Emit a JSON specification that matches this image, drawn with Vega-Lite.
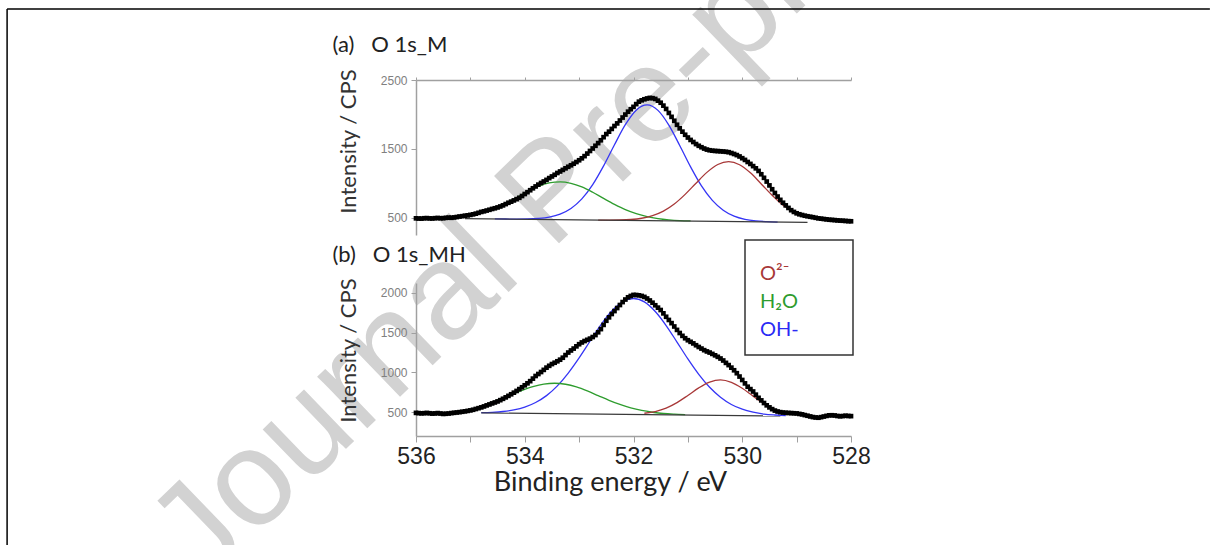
{
"$schema": "https://vega.github.io/schema/vega-lite/v6.json",
"autosize": {"type": "none"},
"padding": {"left": 416, "top": 0, "right": 794, "bottom": 545},
"background": "white",
"config": {"view": {"stroke": null}, "font": "Lato", "axis": {"grid": false, "labelOverlap": false}, "axisY": {"labelOverlap": false}, "legend": {"strokeWidth": 1.5}},
"spacing": 48,
"bounds": "flush",
"resolve": {"scale": {"color": "independent"}, "legend": {"color": "independent"}},
"datasets": {
"wm": [{"label": "Journal Pre-proof"}],
"page": [{"edge": "frame"}],
"base_a": [{"E":535.1,"I":488},{"E":528.8,"I":432}],
"base_b": [{"E":534.8,"I":490},{"E":529.3,"I":452}],
"fit_a": [
{"component":"OH-","E":534.55,"I":483},{"component":"OH-","E":534.35,"I":482},{"component":"OH-","E":534.15,"I":481},{"component":"OH-","E":533.95,"I":483},{"component":"OH-","E":533.75,"I":491},{"component":"OH-","E":533.55,"I":510},{"component":"OH-","E":533.35,"I":553},{"component":"OH-","E":533.15,"I":635},{"component":"OH-","E":532.95,"I":774},{"component":"OH-","E":532.75,"I":981},{"component":"OH-","E":532.55,"I":1253},{"component":"OH-","E":532.35,"I":1560},{"component":"OH-","E":532.15,"I":1852},{"component":"OH-","E":531.95,"I":2062},{"component":"OH-","E":531.75,"I":2138},{"component":"OH-","E":531.55,"I":2059},{"component":"OH-","E":531.35,"I":1845},{"component":"OH-","E":531.15,"I":1549},{"component":"OH-","E":530.95,"I":1239},{"component":"OH-","E":530.75,"I":963},{"component":"OH-","E":530.55,"I":753},{"component":"OH-","E":530.35,"I":610},{"component":"OH-","E":530.15,"I":524},{"component":"OH-","E":529.95,"I":478},{"component":"OH-","E":529.75,"I":455},{"component":"OH-","E":529.55,"I":444},{"component":"OH-","E":529.35,"I":438},
{"component":"H₂O","E":535.55,"I":500},{"component":"H₂O","E":535.35,"I":507},{"component":"H₂O","E":535.15,"I":521},{"component":"H₂O","E":534.95,"I":547},{"component":"H₂O","E":534.75,"I":586},{"component":"H₂O","E":534.55,"I":641},{"component":"H₂O","E":534.35,"I":713},{"component":"H₂O","E":534.15,"I":795},{"component":"H₂O","E":533.95,"I":881},{"component":"H₂O","E":533.75,"I":955},{"component":"H₂O","E":533.55,"I":1005},{"component":"H₂O","E":533.35,"I":1022},{"component":"H₂O","E":533.15,"I":1001},{"component":"H₂O","E":532.95,"I":948},{"component":"H₂O","E":532.75,"I":870},{"component":"H₂O","E":532.55,"I":781},{"component":"H₂O","E":532.35,"I":695},{"component":"H₂O","E":532.15,"I":619},{"component":"H₂O","E":531.95,"I":561},{"component":"H₂O","E":531.75,"I":518},{"component":"H₂O","E":531.55,"I":489},{"component":"H₂O","E":531.35,"I":471},{"component":"H₂O","E":531.15,"I":460},{"component":"H₂O","E":530.95,"I":455},
{"component":"O²⁻","E":532.65,"I":466},{"component":"O²⁻","E":532.45,"I":466},{"component":"O²⁻","E":532.25,"I":468},{"component":"O²⁻","E":532.05,"I":475},{"component":"O²⁻","E":531.85,"I":493},{"component":"O²⁻","E":531.65,"I":531},{"component":"O²⁻","E":531.45,"I":597},{"component":"O²⁻","E":531.25,"I":700},{"component":"O²⁻","E":531.05,"I":840},{"component":"O²⁻","E":530.85,"I":1002},{"component":"O²⁻","E":530.65,"I":1159},{"component":"O²⁻","E":530.45,"I":1273},{"component":"O²⁻","E":530.25,"I":1314},{"component":"O²⁻","E":530.05,"I":1270},{"component":"O²⁻","E":529.85,"I":1152},{"component":"O²⁻","E":529.65,"I":991},{"component":"O²⁻","E":529.45,"I":826},{"component":"O²⁻","E":529.25,"I":682},{"component":"O²⁻","E":529.05,"I":576}
],
"fit_b": [
{"component":"OH-","E":534.8,"I":493},{"component":"OH-","E":534.6,"I":498},{"component":"OH-","E":534.4,"I":508},{"component":"OH-","E":534.2,"I":528},{"component":"OH-","E":534.0,"I":563},{"component":"OH-","E":533.8,"I":621},{"component":"OH-","E":533.6,"I":708},{"component":"OH-","E":533.4,"I":831},{"component":"OH-","E":533.2,"I":992},{"component":"OH-","E":533.0,"I":1183},{"component":"OH-","E":532.8,"I":1392},{"component":"OH-","E":532.6,"I":1598},{"component":"OH-","E":532.4,"I":1772},{"component":"OH-","E":532.2,"I":1889},{"component":"OH-","E":532.0,"I":1930},{"component":"OH-","E":531.8,"I":1887},{"component":"OH-","E":531.6,"I":1766},{"component":"OH-","E":531.4,"I":1590},{"component":"OH-","E":531.2,"I":1382},{"component":"OH-","E":531.0,"I":1170},{"component":"OH-","E":530.8,"I":976},{"component":"OH-","E":530.6,"I":813},{"component":"OH-","E":530.4,"I":688},{"component":"OH-","E":530.2,"I":597},{"component":"OH-","E":530.0,"I":537},{"component":"OH-","E":529.8,"I":500},{"component":"OH-","E":529.6,"I":476},{"component":"OH-","E":529.4,"I":464},{"component":"OH-","E":529.2,"I":457},
{"component":"H₂O","E":534.65,"I":612},{"component":"H₂O","E":534.45,"I":662},{"component":"H₂O","E":534.25,"I":719},{"component":"H₂O","E":534.05,"I":774},{"component":"H₂O","E":533.85,"I":822},{"component":"H₂O","E":533.65,"I":854},{"component":"H₂O","E":533.45,"I":864},{"component":"H₂O","E":533.25,"I":851},{"component":"H₂O","E":533.05,"I":817},{"component":"H₂O","E":532.85,"I":767},{"component":"H₂O","E":532.65,"I":708},{"component":"H₂O","E":532.45,"I":649},{"component":"H₂O","E":532.25,"I":597},{"component":"H₂O","E":532.05,"I":553},{"component":"H₂O","E":531.85,"I":521},{"component":"H₂O","E":531.65,"I":499},{"component":"H₂O","E":531.45,"I":483},{"component":"H₂O","E":531.25,"I":474},{"component":"H₂O","E":531.05,"I":468},
{"component":"O²⁻","E":531.8,"I":486},{"component":"O²⁻","E":531.6,"I":508},{"component":"O²⁻","E":531.4,"I":551},{"component":"O²⁻","E":531.2,"I":620},{"component":"O²⁻","E":531.0,"I":710},{"component":"O²⁻","E":530.8,"I":805},{"component":"O²⁻","E":530.6,"I":878},{"component":"O²⁻","E":530.4,"I":906},{"component":"O²⁻","E":530.2,"I":875},{"component":"O²⁻","E":530.0,"I":800},{"component":"O²⁻","E":529.8,"I":702},{"component":"O²⁻","E":529.6,"I":609}
],
"spec_a": [
{"E":536.00,"I":492},{"E":535.95,"I":489},{"E":535.90,"I":488},{"E":535.85,"I":493},{"E":535.80,"I":495},{"E":535.75,"I":491},{"E":535.70,"I":490},{"E":535.65,"I":494},{"E":535.60,"I":497},{"E":535.55,"I":493},{"E":535.50,"I":494},{"E":535.45,"I":499},{"E":535.40,"I":502},{"E":535.35,"I":500},{"E":535.30,"I":505},{"E":535.25,"I":511},{"E":535.20,"I":518},{"E":535.15,"I":523},{"E":535.10,"I":530},{"E":535.05,"I":535},{"E":535.00,"I":542},{"E":534.95,"I":550},{"E":534.90,"I":560},{"E":534.85,"I":572},{"E":534.80,"I":585},{"E":534.75,"I":594},{"E":534.70,"I":605},{"E":534.65,"I":616},{"E":534.60,"I":628},{"E":534.55,"I":638},{"E":534.50,"I":650},{"E":534.45,"I":664},{"E":534.40,"I":680},{"E":534.35,"I":699},{"E":534.30,"I":718},{"E":534.25,"I":734},{"E":534.20,"I":752},{"E":534.15,"I":770},{"E":534.10,"I":790},{"E":534.05,"I":816},{"E":534.00,"I":845},{"E":533.95,"I":872},{"E":533.90,"I":900},{"E":533.85,"I":928},{"E":533.80,"I":955},{"E":533.75,"I":981},{"E":533.70,"I":1005},{"E":533.65,"I":1027},{"E":533.60,"I":1050},{"E":533.55,"I":1076},{"E":533.50,"I":1100},{"E":533.45,"I":1124},{"E":533.40,"I":1150},{"E":533.35,"I":1172},{"E":533.30,"I":1195},{"E":533.25,"I":1218},{"E":533.20,"I":1240},{"E":533.15,"I":1262},{"E":533.10,"I":1285},{"E":533.05,"I":1309},{"E":533.00,"I":1335},{"E":532.95,"I":1363},{"E":532.90,"I":1395},{"E":532.85,"I":1432},{"E":532.80,"I":1470},{"E":532.75,"I":1506},{"E":532.70,"I":1545},{"E":532.65,"I":1584},{"E":532.60,"I":1625},{"E":532.55,"I":1670},{"E":532.50,"I":1715},{"E":532.45,"I":1750},{"E":532.40,"I":1790},{"E":532.35,"I":1832},{"E":532.30,"I":1870},{"E":532.25,"I":1912},{"E":532.20,"I":1955},{"E":532.15,"I":1998},{"E":532.10,"I":2040},{"E":532.05,"I":2076},{"E":532.00,"I":2110},{"E":531.95,"I":2150},{"E":531.90,"I":2185},{"E":531.85,"I":2205},{"E":531.80,"I":2220},{"E":531.75,"I":2232},{"E":531.70,"I":2240},{"E":531.65,"I":2236},{"E":531.60,"I":2225},{"E":531.55,"I":2200},{"E":531.50,"I":2170},{"E":531.45,"I":2128},{"E":531.40,"I":2080},{"E":531.35,"I":2022},{"E":531.30,"I":1965},{"E":531.25,"I":1908},{"E":531.20,"I":1850},{"E":531.15,"I":1798},{"E":531.10,"I":1750},{"E":531.05,"I":1705},{"E":531.00,"I":1665},{"E":530.95,"I":1630},{"E":530.90,"I":1600},{"E":530.85,"I":1570},{"E":530.80,"I":1545},{"E":530.75,"I":1524},{"E":530.70,"I":1505},{"E":530.65,"I":1490},{"E":530.60,"I":1480},{"E":530.55,"I":1474},{"E":530.50,"I":1470},{"E":530.45,"I":1468},{"E":530.40,"I":1465},{"E":530.35,"I":1462},{"E":530.30,"I":1458},{"E":530.25,"I":1452},{"E":530.20,"I":1440},{"E":530.15,"I":1426},{"E":530.10,"I":1410},{"E":530.05,"I":1390},{"E":530.00,"I":1365},{"E":529.95,"I":1340},{"E":529.90,"I":1310},{"E":529.85,"I":1282},{"E":529.80,"I":1250},{"E":529.75,"I":1218},{"E":529.70,"I":1180},{"E":529.65,"I":1132},{"E":529.60,"I":1080},{"E":529.55,"I":1026},{"E":529.50,"I":970},{"E":529.45,"I":914},{"E":529.40,"I":860},{"E":529.35,"I":808},{"E":529.30,"I":760},{"E":529.25,"I":718},{"E":529.20,"I":680},{"E":529.15,"I":643},{"E":529.10,"I":610},{"E":529.05,"I":585},{"E":529.00,"I":565},{"E":528.95,"I":551},{"E":528.90,"I":540},{"E":528.85,"I":530},{"E":528.80,"I":522},{"E":528.75,"I":515},{"E":528.70,"I":508},{"E":528.65,"I":500},{"E":528.60,"I":492},{"E":528.55,"I":487},{"E":528.50,"I":482},{"E":528.45,"I":477},{"E":528.40,"I":472},{"E":528.35,"I":469},{"E":528.30,"I":466},{"E":528.25,"I":462},{"E":528.20,"I":459},{"E":528.15,"I":457},{"E":528.10,"I":454},{"E":528.05,"I":451},{"E":528.00,"I":449}
],
"spec_b": [
{"E":536.00,"I":491},{"E":535.95,"I":488},{"E":535.90,"I":485},{"E":535.85,"I":487},{"E":535.80,"I":490},{"E":535.75,"I":486},{"E":535.70,"I":482},{"E":535.65,"I":484},{"E":535.60,"I":488},{"E":535.55,"I":483},{"E":535.50,"I":478},{"E":535.45,"I":480},{"E":535.40,"I":483},{"E":535.35,"I":488},{"E":535.30,"I":492},{"E":535.25,"I":496},{"E":535.20,"I":500},{"E":535.15,"I":505},{"E":535.10,"I":510},{"E":535.05,"I":516},{"E":535.00,"I":522},{"E":534.95,"I":530},{"E":534.90,"I":540},{"E":534.85,"I":550},{"E":534.80,"I":560},{"E":534.75,"I":572},{"E":534.70,"I":585},{"E":534.65,"I":597},{"E":534.60,"I":610},{"E":534.55,"I":622},{"E":534.50,"I":635},{"E":534.45,"I":651},{"E":534.40,"I":668},{"E":534.35,"I":686},{"E":534.30,"I":705},{"E":534.25,"I":725},{"E":534.20,"I":745},{"E":534.15,"I":767},{"E":534.10,"I":790},{"E":534.05,"I":813},{"E":534.00,"I":838},{"E":533.95,"I":863},{"E":533.90,"I":890},{"E":533.85,"I":922},{"E":533.80,"I":955},{"E":533.75,"I":980},{"E":533.70,"I":1005},{"E":533.65,"I":1032},{"E":533.60,"I":1060},{"E":533.55,"I":1083},{"E":533.50,"I":1105},{"E":533.45,"I":1122},{"E":533.40,"I":1140},{"E":533.35,"I":1160},{"E":533.30,"I":1185},{"E":533.25,"I":1218},{"E":533.20,"I":1250},{"E":533.15,"I":1276},{"E":533.10,"I":1300},{"E":533.05,"I":1328},{"E":533.00,"I":1355},{"E":532.95,"I":1377},{"E":532.90,"I":1395},{"E":532.85,"I":1410},{"E":532.80,"I":1425},{"E":532.75,"I":1445},{"E":532.70,"I":1470},{"E":532.65,"I":1505},{"E":532.60,"I":1545},{"E":532.55,"I":1598},{"E":532.50,"I":1650},{"E":532.45,"I":1693},{"E":532.40,"I":1735},{"E":532.35,"I":1772},{"E":532.30,"I":1810},{"E":532.25,"I":1848},{"E":532.20,"I":1885},{"E":532.15,"I":1917},{"E":532.10,"I":1945},{"E":532.05,"I":1962},{"E":532.00,"I":1975},{"E":531.95,"I":1974},{"E":531.90,"I":1970},{"E":531.85,"I":1962},{"E":531.80,"I":1950},{"E":531.75,"I":1930},{"E":531.70,"I":1905},{"E":531.65,"I":1877},{"E":531.60,"I":1845},{"E":531.55,"I":1815},{"E":531.50,"I":1785},{"E":531.45,"I":1743},{"E":531.40,"I":1700},{"E":531.35,"I":1660},{"E":531.30,"I":1620},{"E":531.25,"I":1578},{"E":531.20,"I":1535},{"E":531.15,"I":1496},{"E":531.10,"I":1460},{"E":531.05,"I":1430},{"E":531.00,"I":1405},{"E":530.95,"I":1385},{"E":530.90,"I":1365},{"E":530.85,"I":1342},{"E":530.80,"I":1320},{"E":530.75,"I":1300},{"E":530.70,"I":1280},{"E":530.65,"I":1264},{"E":530.60,"I":1250},{"E":530.55,"I":1233},{"E":530.50,"I":1215},{"E":530.45,"I":1196},{"E":530.40,"I":1175},{"E":530.35,"I":1150},{"E":530.30,"I":1120},{"E":530.25,"I":1092},{"E":530.20,"I":1060},{"E":530.15,"I":1027},{"E":530.10,"I":990},{"E":530.05,"I":948},{"E":530.00,"I":905},{"E":529.95,"I":862},{"E":529.90,"I":820},{"E":529.85,"I":790},{"E":529.80,"I":760},{"E":529.75,"I":720},{"E":529.70,"I":680},{"E":529.65,"I":648},{"E":529.60,"I":615},{"E":529.55,"I":586},{"E":529.50,"I":560},{"E":529.45,"I":538},{"E":529.40,"I":520},{"E":529.35,"I":508},{"E":529.30,"I":500},{"E":529.25,"I":495},{"E":529.20,"I":492},{"E":529.15,"I":490},{"E":529.10,"I":488},{"E":529.05,"I":486},{"E":529.00,"I":484},{"E":528.95,"I":478},{"E":528.90,"I":472},{"E":528.85,"I":463},{"E":528.80,"I":455},{"E":528.75,"I":446},{"E":528.70,"I":438},{"E":528.65,"I":433},{"E":528.60,"I":430},{"E":528.55,"I":437},{"E":528.50,"I":445},{"E":528.45,"I":453},{"E":528.40,"I":460},{"E":528.35,"I":461},{"E":528.30,"I":458},{"E":528.25,"I":452},{"E":528.20,"I":448},{"E":528.15,"I":451},{"E":528.10,"I":455},{"E":528.05,"I":452},{"E":528.00,"I":450}
]
},
"vconcat": [
{
"width": 435, "height": 32,
"layer": [
{"data": {"name": "wm"}, "mark": {"type": "text", "align": "left", "baseline": "alphabetic", "angle": 316, "fontSize": 136, "font": "Liberation Sans", "color": "#d2d2d2"},
 "encoding": {"x": {"datum": 539.92, "type": "quantitative", "scale": {"domain": [528, 536], "reverse": true, "nice": false, "zero": false},
   "axis": {"orient": "top", "domain": false, "ticks": false, "labels": false, "title": "(a)\u00a0\u00a0\u00a0O 1s_M", "titleFont": "Lato", "titleFontSize": 22, "titleFontWeight": "normal", "titleColor": "#222", "titleAngle": 0, "titleAlign": "left", "titleBaseline": "alphabetic", "titleX": -84, "titleY": 51}},
  "y": {"datum": -4860, "type": "quantitative", "scale": {"domain": [3196.8, 3661.3], "nice": false, "zero": false},
   "axis": {"orient": "left", "domain": false, "ticks": false, "labels": false, "title": "(b)\u00a0\u00a0\u00a0O 1s_MH", "titleFont": "Lato", "titleFontSize": 22, "titleFontWeight": "normal", "titleColor": "#222", "titleAngle": 0, "titleAlign": "left", "titleBaseline": "alphabetic", "titleX": -84, "titleY": 261}},
  "text": {"field": "label"}}},
{"data": {"name": "page"}, "mark": {"type": "rule", "color": "#000", "strokeWidth": 1.5},
 "encoding": {"x": {"datum": 543.52, "type": "quantitative"}, "x2": {"datum": 521.4}, "y": {"datum": 3531, "type": "quantitative"}}},
{"data": {"name": "page"}, "mark": {"type": "rule", "color": "#000", "strokeWidth": 1.5},
 "encoding": {"x": {"datum": 543.52, "type": "quantitative"}, "y": {"datum": 3531, "type": "quantitative"}, "y2": {"datum": -4250}}}
]
},
{
"width": 435, "height": 155,
"layer": [
{"data": {"name": "fit_a"}, "mark": {"type": "line", "strokeWidth": 1.3, "interpolate": "monotone"},
 "encoding": {
  "x": {"field": "E", "type": "quantitative", "scale": {"domain": [528, 536], "reverse": true, "nice": false, "zero": false},
   "axis": {"orient": "top", "values": [528,529,530,531,532,533,534,535,536], "labels": false, "tickSize": 3, "domainColor": "#a0a0a0", "domainWidth": 1.5, "tickColor": "#a0a0a0", "tickWidth": 1, "title": null}},
  "y": {"field": "I", "type": "quantitative", "scale": {"domain": [250, 2500], "nice": false, "zero": false},
   "axis": {"orient": "left", "values": [500,1000,1500,2000,2500], "format": "d", "labelOverlap": false, "labelSeparation": -30, "tickSize": 5, "tickColor": "#a0a0a0", "tickWidth": 1, "domainColor": "#a0a0a0", "domainWidth": 1.5, "labelFont": "Liberation Sans", "labelFontSize": 12, "labelColor": "#808080", "labelPadding": 4, "title": "Intensity / CPS", "titleFont": "Lato", "titleFontSize": 22, "titleFontWeight": "normal", "titleColor": "#333", "titleX": -56, "titleY": 61}},
  "color": {"field": "component", "type": "nominal", "scale": {"domain": ["O²⁻", "H₂O", "OH-"], "range": ["#a83838", "#2e9c2e", "#3535f5"]}, "legend": null}}},
{"data": {"name": "base_a"}, "mark": {"type": "line", "color": "#3a3a3a", "strokeWidth": 1.2},
 "encoding": {"x": {"field": "E", "type": "quantitative"}, "y": {"field": "I", "type": "quantitative"}}},
{"data": {"name": "spec_a"}, "mark": {"type": "square", "size": 22, "color": "#000", "opacity": 1, "filled": true},
 "encoding": {"x": {"field": "E", "type": "quantitative"}, "y": {"field": "I", "type": "quantitative"}}}
]
},
{
"width": 435, "height": 153,
"layer": [
{"data": {"name": "fit_b"}, "mark": {"type": "line", "strokeWidth": 1.3, "interpolate": "monotone"},
 "encoding": {
  "x": {"field": "E", "type": "quantitative", "scale": {"domain": [528, 536], "reverse": true, "nice": false, "zero": false},
   "axis": {"orient": "bottom", "values": [528,529,530,531,532,533,534,535,536], "format": "d", "labelExpr": "datum.value % 2 === 0 ? datum.label : ''", "tickSize": 6, "tickColor": "#a0a0a0", "tickWidth": 1, "domainColor": "#a0a0a0", "domainWidth": 1.5, "labelFont": "Liberation Sans", "labelFontSize": 23, "labelColor": "#222", "labelPadding": 3, "labelFlush": false, "labelOverlap": false, "title": "Binding energy / eV", "titleFont": "Lato", "titleFontSize": 27, "titleFontWeight": "normal", "titleColor": "#222", "titleX": 194, "titleY": 54, "titleAlign": "center", "titleBaseline": "alphabetic"}},
  "y": {"field": "I", "type": "quantitative", "scale": {"domain": [200, 2125], "nice": false, "zero": false},
   "axis": {"orient": "left", "values": [500,1000,1500,2000], "format": "d", "labelOverlap": false, "tickSize": 5, "tickColor": "#a0a0a0", "tickWidth": 1, "domainColor": "#a0a0a0", "domainWidth": 1.5, "labelFont": "Liberation Sans", "labelFontSize": 12, "labelColor": "#808080", "labelPadding": 4, "title": "Intensity / CPS", "titleFont": "Lato", "titleFontSize": 22, "titleFontWeight": "normal", "titleColor": "#333", "titleX": -56, "titleY": 67}},
  "color": {"field": "component", "type": "nominal", "scale": {"domain": ["O²⁻", "H₂O", "OH-"], "range": ["#a83838", "#2e9c2e", "#3535f5"]},
   "legend": {"orient": "none", "legendX": 329, "legendY": -43, "title": "MMMMMMMMMMMMMM", "titleFont": "Lato", "titleFontSize": 6, "titleFontWeight": "normal", "titleOpacity": 0, "titlePadding": 3, "titleLimit": 1000, "padding": 15, "strokeColor": "#333", "symbolSize": 0, "symbolOpacity": 0, "symbolStrokeWidth": 0, "labelOffset": -20, "labelFont": "Lato", "labelFontSize": 20, "labelLimit": 300, "rowPadding": 8,
    "labelColor": {"expr": "datum.label === 'OH-' ? '#2a2af5' : datum.label === 'H₂O' ? '#2e9c2e' : '#a83838'"}}}}},
{"data": {"name": "base_b"}, "mark": {"type": "line", "color": "#3a3a3a", "strokeWidth": 1.2},
 "encoding": {"x": {"field": "E", "type": "quantitative"}, "y": {"field": "I", "type": "quantitative"}}},
{"data": {"name": "spec_b"}, "mark": {"type": "square", "size": 22, "color": "#000", "opacity": 1, "filled": true},
 "encoding": {"x": {"field": "E", "type": "quantitative"}, "y": {"field": "I", "type": "quantitative"}}}
]
}
]
}
